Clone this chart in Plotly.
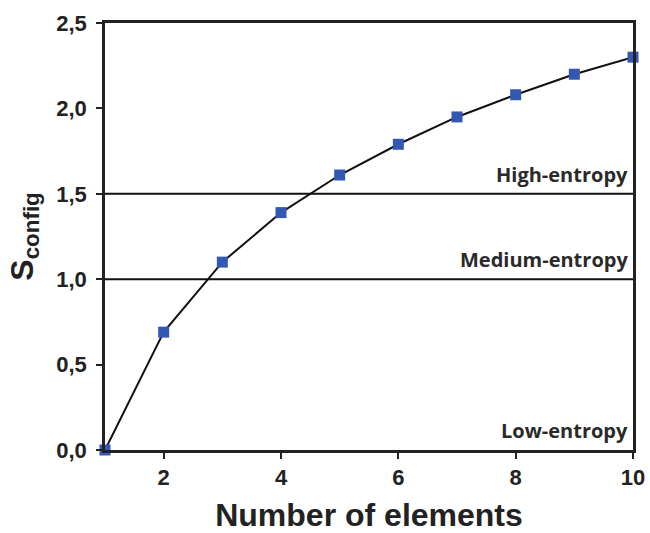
import plotly.graph_objects as go

n_elements = [1, 2, 3, 4, 5, 6, 7, 8, 9, 10]
s_config = [0.00, 0.69, 1.10, 1.39, 1.61, 1.79, 1.95, 2.08, 2.20, 2.30]

y_tick_vals = [0.0, 0.5, 1.0, 1.5, 2.0, 2.5]
y_tick_text = ["0,0", "0,5", "1,0", "1,5", "2,0", "2,5"]
x_tick_vals = [2, 4, 6, 8, 10]

threshold_values = [1.0, 1.5]
region_labels = ["Low-entropy", "Medium-entropy", "High-entropy"]
region_label_y = [0.0, 1.0, 1.5]

fig = go.Figure()

for t in threshold_values:
    fig.add_shape(type="line", xref="paper", x0=0, x1=1, yref="y", y0=t, y1=t,
                  line=dict(color="#111111", width=2), layer="below")

fig.add_trace(go.Scatter(
    x=n_elements, y=s_config, mode="lines+markers",
    line=dict(color="#111111", width=2),
    marker=dict(symbol="square", size=11, color="#3358b3"),
    cliponaxis=False, showlegend=False,
))

for lab, yv in zip(region_labels, region_label_y):
    fig.add_annotation(x=0.994, xref="paper", y=yv, yref="y", text=lab,
                       showarrow=False, xanchor="right", yanchor="bottom", yshift=4,
                       font=dict(family="Open Sans", size=20, color="#2a2a2a", weight="bold"))

font_main = "Liberation Sans"

# y-axis title as a rotated annotation so it sits closer to the page edge
fig.add_annotation(x=-0.153, xref="paper", y=0.5, yref="paper", text="S<sub>config</sub>",
                   showarrow=False, textangle=-90, xanchor="center", yanchor="middle",
                   font=dict(family=font_main, size=32, color="#222222", weight="bold"))

fig.update_layout(
    width=650, height=533,
    margin=dict(l=105, r=17, t=23, b=83),
    plot_bgcolor="white", paper_bgcolor="white",
    xaxis=dict(range=[1, 10], tickvals=x_tick_vals, ticks="outside", ticklen=6, tickwidth=2,
               tickcolor="#222222", showline=True, linewidth=2.5, linecolor="#222222", mirror=True,
               showgrid=False, zeroline=False, automargin=False,
               tickfont=dict(family=font_main, size=22, color="#222222", weight="bold"),
               title=dict(text="Number of elements", standoff=26,
                          font=dict(family=font_main, size=32, color="#222222", weight="bold"))),
    yaxis=dict(range=[0, 2.5], tickvals=y_tick_vals, ticktext=y_tick_text, ticks="outside",
               ticklen=6, tickwidth=2, tickcolor="#222222", showline=True, linewidth=2.5,
               linecolor="#222222", mirror=True, showgrid=False, zeroline=False, automargin=False,
               ticklabelstandoff=5,
               tickfont=dict(family=font_main, size=22, color="#222222", weight="bold")),
)

fig.write_html("out.html", config={"displayModeBar": False},
               post_script="document.body.style.margin='0';document.body.style.overflow='hidden';")
